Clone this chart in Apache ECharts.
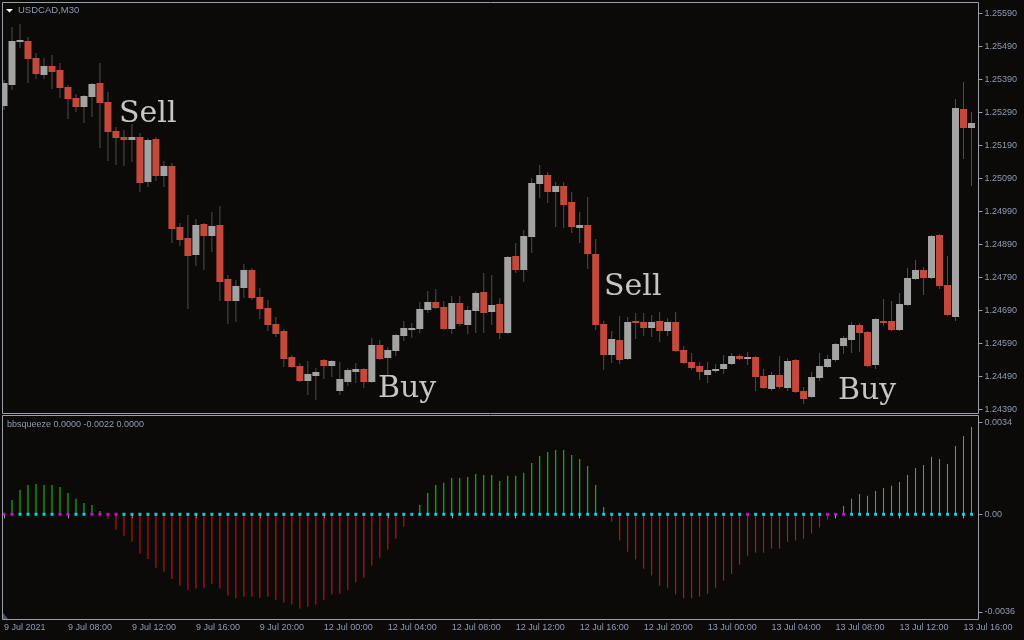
<!DOCTYPE html>
<html><head><meta charset="utf-8">
<style>html,body{margin:0;padding:0;background:#0c0a08;}#c{width:1024px;height:640px;}</style>
<script src="https://cdn.jsdelivr.net/npm/echarts@6/dist/echarts.min.js"></script>
</head><body><div id="c"></div><script>
// ---- data ----
var opens = [1.25310,1.25375,1.25504,1.25507,1.25456,1.25405,1.25431,1.25419,1.25368,1.25334,1.25307,1.25337,1.25380,1.25322,1.25234,1.25216,1.25207,1.25216,1.25079,1.25210,1.25098,1.25128,1.24943,1.24910,1.24858,1.24952,1.24916,1.24949,1.24785,1.24719,1.24758,1.24813,1.24731,1.24697,1.24649,1.24628,1.24549,1.24521,1.24476,1.24491,1.24540,1.24521,1.24446,1.24473,1.24503,1.24512,1.24473,1.24585,1.24546,1.24567,1.24612,1.24631,1.24634,1.24691,1.24715,1.24700,1.24634,1.24712,1.24646,1.24688,1.24746,1.24685,1.24709,1.24621,1.24855,1.24813,1.24913,1.25073,1.25101,1.25049,1.25067,1.25019,1.24940,1.24949,1.24861,1.24649,1.24555,1.24600,1.24543,1.24658,1.24655,1.24637,1.24658,1.24628,1.24655,1.24570,1.24534,1.24521,1.24494,1.24506,1.24512,1.24527,1.24552,1.24543,1.24549,1.24491,1.24452,1.24494,1.24455,1.24540,1.24446,1.24427,1.24485,1.24518,1.24540,1.24582,1.24600,1.24646,1.24625,1.24524,1.24658,1.24658,1.24631,1.24706,1.24785,1.24813,1.24788,1.24919,1.24767,1.24670,1.25301,1.25243];
var closes = [1.25381,1.25507,1.25510,1.25452,1.25408,1.25431,1.25413,1.25365,1.25331,1.25307,1.25340,1.25377,1.25319,1.25231,1.25213,1.25207,1.25216,1.25076,1.25207,1.25098,1.25128,1.24937,1.24904,1.24855,1.24949,1.24916,1.24946,1.24776,1.24719,1.24764,1.24813,1.24728,1.24694,1.24646,1.24618,1.24543,1.24518,1.24476,1.24497,1.24503,1.24521,1.24537,1.24482,1.24509,1.24512,1.24473,1.24585,1.24543,1.24570,1.24615,1.24637,1.24637,1.24694,1.24715,1.24697,1.24634,1.24712,1.24649,1.24691,1.24743,1.24682,1.24706,1.24621,1.24852,1.24813,1.24916,1.25076,1.25101,1.25049,1.25067,1.25010,1.24943,1.24949,1.24861,1.24646,1.24555,1.24603,1.24540,1.24655,1.24652,1.24637,1.24655,1.24628,1.24655,1.24567,1.24530,1.24515,1.24503,1.24509,1.24512,1.24527,1.24552,1.24543,1.24549,1.24488,1.24455,1.24494,1.24458,1.24537,1.24443,1.24421,1.24488,1.24521,1.24543,1.24588,1.24606,1.24646,1.24621,1.24521,1.24664,1.24652,1.24631,1.24709,1.24788,1.24813,1.24788,1.24916,1.24764,1.24676,1.25304,1.25243,1.25258];
var lows = [1.25298,1.25358,1.25485,1.25381,1.25393,1.25393,1.25361,1.25335,1.25270,1.25293,1.25257,1.25278,1.25183,1.25144,1.25132,1.25129,1.25141,1.25050,1.25065,1.25082,1.25065,1.24895,1.24885,1.24694,1.24825,1.24813,1.24867,1.24719,1.24649,1.24655,1.24728,1.24722,1.24664,1.24628,1.24609,1.24518,1.24515,1.24473,1.24433,1.24418,1.24482,1.24488,1.24433,1.24461,1.24470,1.24455,1.24470,1.24540,1.24494,1.24552,1.24597,1.24606,1.24621,1.24682,1.24694,1.24631,1.24618,1.24643,1.24618,1.24621,1.24621,1.24646,1.24603,1.24618,1.24803,1.24776,1.24864,1.25031,1.25016,1.24943,1.24940,1.24925,1.24894,1.24816,1.24631,1.24509,1.24530,1.24527,1.24540,1.24603,1.24612,1.24609,1.24594,1.24612,1.24564,1.24527,1.24509,1.24479,1.24470,1.24500,1.24497,1.24524,1.24540,1.24524,1.24446,1.24452,1.24446,1.24452,1.24446,1.24439,1.24406,1.24424,1.24476,1.24515,1.24534,1.24558,1.24561,1.24564,1.24518,1.24512,1.24643,1.24628,1.24628,1.24703,1.24782,1.24737,1.24785,1.24755,1.24673,1.24658,1.25149,1.25067];
var highs = [1.25389,1.25550,1.25559,1.25520,1.25470,1.25456,1.25465,1.25440,1.25374,1.25346,1.25343,1.25381,1.25441,1.25352,1.25247,1.25237,1.25255,1.25228,1.25213,1.25216,1.25144,1.25137,1.24955,1.24979,1.24967,1.24955,1.24988,1.25007,1.24797,1.24782,1.24831,1.24819,1.24758,1.24722,1.24670,1.24634,1.24555,1.24530,1.24537,1.24515,1.24543,1.24540,1.24534,1.24515,1.24530,1.24515,1.24606,1.24600,1.24579,1.24618,1.24658,1.24652,1.24715,1.24749,1.24755,1.24719,1.24734,1.24734,1.24703,1.24749,1.24803,1.24797,1.24728,1.24855,1.24894,1.24934,1.25092,1.25131,1.25110,1.25079,1.25079,1.25049,1.24988,1.25034,1.24907,1.24658,1.24628,1.24673,1.24670,1.24682,1.24682,1.24676,1.24685,1.24667,1.24685,1.24582,1.24561,1.24534,1.24534,1.24527,1.24555,1.24561,1.24558,1.24564,1.24552,1.24512,1.24503,1.24552,1.24546,1.24543,1.24458,1.24503,1.24561,1.24555,1.24591,1.24612,1.24655,1.24652,1.24628,1.24667,1.24725,1.24719,1.24743,1.24819,1.24843,1.24822,1.24919,1.24922,1.24855,1.25331,1.25383,1.25292];
var squeezeHist = [0,0.00053,0.00090,0.00108,0.00112,0.00108,0.00108,0.00101,0.00079,0.00057,0.00042,0.00034,0.00012,-0.00017,-0.00057,-0.00079,-0.00101,-0.00145,-0.00165,-0.00197,-0.00212,-0.00239,-0.00263,-0.00278,-0.00274,-0.00271,-0.00256,-0.00274,-0.00300,-0.00311,-0.00304,-0.00304,-0.00308,-0.00304,-0.00315,-0.00326,-0.00333,-0.00348,-0.00341,-0.00333,-0.00315,-0.00296,-0.00293,-0.00278,-0.00252,-0.00234,-0.00189,-0.00160,-0.00130,-0.00090,-0.00046,0,0.00034,0.00079,0.00108,0.00116,0.00134,0.00134,0.00138,0.00149,0.00145,0.00145,0.00123,0.00142,0.00142,0.00153,0.00189,0.00215,0.00230,0.00237,0.00237,0.00219,0.00204,0.00178,0.00108,0.00027,-0.00027,-0.00097,-0.00138,-0.00167,-0.00201,-0.00226,-0.00263,-0.00271,-0.00296,-0.00311,-0.00311,-0.00304,-0.00293,-0.00271,-0.00245,-0.00219,-0.00186,-0.00153,-0.00142,-0.00142,-0.00127,-0.00127,-0.00101,-0.00097,-0.00090,-0.00071,-0.00049,-0.00020,0,0.00031,0.00057,0.00075,0.00068,0.00086,0.00097,0.00105,0.00119,0.00145,0.00171,0.00182,0.00212,0.00204,0.00186,0.00252,0.00289,0.00322];
var squeezeOnBars = [0,1,7,8,11,12,13,14,93,103,104,105];
var days = [["9 Jul",4,24],["12 Jul",0,24],["13 Jul",0,17]];
var timeTickLabels = ["9 Jul 2021","9 Jul 08:00","9 Jul 12:00","9 Jul 16:00","9 Jul 20:00","12 Jul 00:00","12 Jul 04:00","12 Jul 08:00","12 Jul 12:00","12 Jul 16:00","12 Jul 20:00","13 Jul 00:00","13 Jul 04:00","13 Jul 08:00","13 Jul 12:00","13 Jul 16:00"];
var priceTicks = [1.24390,1.24490,1.24590,1.24690,1.24790,1.24890,1.24990,1.25090,1.25190,1.25290,1.25390,1.25490,1.25590];
var squeezeTicks = [-0.0036,0,0.0034];
var annotations = [["Sell",119,114],["Sell",604,287],["Buy",378,389],["Buy",838,391]];

// ---- categories (30-minute bars) ----
var categories = [];
days.forEach(function(d){
  for (var hh = d[1]; hh < d[2]; hh++) {
    [0,30].forEach(function(mm){
      if (d[2] === 17 && hh === 16 && mm === 30) { categories.push(d[0]+" 16:30"); return; }
      categories.push(d[0]+" "+(hh<10?"0":"")+hh+":"+(mm?"30":"00"));
    });
  }
});
categories = categories.slice(0, opens.length);

var BG = "#0c0a08", FRAME = "#9a9ea9", TXT = "#8f9bb3";
var BULL = "#a3a3a3", BEAR = "#c4493a", WICK = "#4e4e4e";
var FONT = '"Liberation Sans", Arial, sans-serif';

var candleData = opens.map(function(o,i){ return [i, o, closes[i], lows[i], highs[i]]; });
var dotData = squeezeHist.map(function(v,i){
  return {value:[i,0], itemStyle:{color: squeezeOnBars.indexOf(i) >= 0 ? "#ff00ff" : "#00ffff"}};
});
function isTick(idx){ return idx % 8 === 0; }

var chart = echarts.init(document.getElementById('c'), null, {renderer:'canvas'});
var graphics = [
  {type:'rect', z:100, shape:{x:0,y:0,width:2,height:640}, style:{fill:BG}},
  {type:'rect', z:101, shape:{x:2.5,y:2.5,width:976,height:411}, style:{fill:null, stroke:FRAME, lineWidth:1}},
  {type:'rect', z:101, shape:{x:2.5,y:415.5,width:976,height:204}, style:{fill:null, stroke:FRAME, lineWidth:1}},
  {type:'polygon', z:101, shape:{points:[[6,9],[13,9],[9.5,12.5]]}, style:{fill:"#ffffff"}},
  {type:'polygon', z:101, shape:{points:[[3,613],[3,619],[8,619]]}, style:{fill:"#4a5272"}},
  {type:'text', z:101, x:18, y:10.5, style:{text:"USDCAD,M30", fill:TXT, font:'9.5px '+FONT, verticalAlign:'middle', textVerticalAlign:'middle'}},
  {type:'text', z:101, x:7, y:424.5, style:{text:"bbsqueeze 0.0000 -0.0022 0.0000", fill:TXT, font:'9px '+FONT, verticalAlign:'middle', textVerticalAlign:'middle'}}
];
annotations.forEach(function(a){
  graphics.push({type:'text', z:90, x:a[1], y:a[2], style:{text:a[0], fill:"#c6c6c6", font:'30px "DejaVu Serif", serif', verticalAlign:'middle', textVerticalAlign:'middle'}});
});

chart.setOption({
  backgroundColor: BG,
  animation: false,
  grid: [
    {left:-0.5, top:2, width:976, height:411},
    {left:-0.5, top:416, width:976, height:203}
  ],
  xAxis: [
    {type:'category', gridIndex:0, data:categories, boundaryGap:true, show:false},
    {type:'category', gridIndex:1, data:categories, boundaryGap:true,
      axisLine:{show:false},
      axisTick:{show:true, alignWithLabel:true, length:4, interval:function(i){return isTick(i);}, lineStyle:{color:FRAME}},
      axisLabel:{interval:function(i){return isTick(i);}, formatter:function(v,i){ return isTick(i) ? timeTickLabels[i/8] : ''; },
        color:TXT, fontSize:9, fontFamily:FONT, align:'left', margin:4},
      splitLine:{show:false}}
  ],
  yAxis: [
    {type:'value', gridIndex:0, position:'right', offset:3, min:1.243788, max:1.256255, scale:true,
      axisLine:{show:false}, splitLine:{show:false},
      axisTick:{show:true, length:4, lineStyle:{color:FRAME}, customValues:priceTicks},
      axisLabel:{customValues:priceTicks, formatter:function(v){return v.toFixed(5);}, color:TXT, fontSize:9, fontFamily:FONT, margin:6}},
    {type:'value', gridIndex:1, position:'right', offset:3, min:-0.003863, max:0.003627,
      axisLine:{show:false}, splitLine:{show:false},
      axisTick:{show:true, length:4, lineStyle:{color:FRAME}, customValues:squeezeTicks},
      axisLabel:{customValues:squeezeTicks, formatter:function(v){return Math.abs(v) < 1e-9 ? '0.00' : v.toFixed(4);}, color:TXT, fontSize:9, fontFamily:FONT, margin:6}}
  ],
  series: [
    {type:'custom', xAxisIndex:0, yAxisIndex:0, data:candleData, encode:{x:0, y:[1,2,3,4]}, clip:false,
      renderItem:function(params, api){
        var k = api.value(0), o = api.value(1), c = api.value(2), l = api.value(3), h = api.value(4);
        var pO = api.coord([k,o]), pC = api.coord([k,c]), pL = api.coord([k,l]), pH = api.coord([k,h]);
        var cx = pO[0];
        var t = Math.round(Math.min(pO[1], pC[1])), b = Math.round(Math.max(pO[1], pC[1]));
        if (b - t < 1) b = t + 1;
        return {type:'group', children:[
          {type:'rect', shape:{x:cx-0.5, y:Math.round(pH[1]), width:1, height:Math.max(1, Math.round(pL[1]) - Math.round(pH[1]))}, style:{fill:WICK}},
          {type:'rect', shape:{x:cx-3.5, y:t, width:7, height:b-t}, style:{fill: c >= o ? BULL : BEAR}}
        ]};
      }},
    {type:'bar', xAxisIndex:1, yAxisIndex:1, data:squeezeHist, barWidth:1,
      itemStyle:{color:function(p){ return p.value >= 0 ? "#22cc22" : "#dd1111"; }}},
    {type:'scatter', xAxisIndex:1, yAxisIndex:1, data:dotData, symbol:'rect', symbolSize:3, z:5}
  ],
  graphic: graphics
});
</script></body></html>
